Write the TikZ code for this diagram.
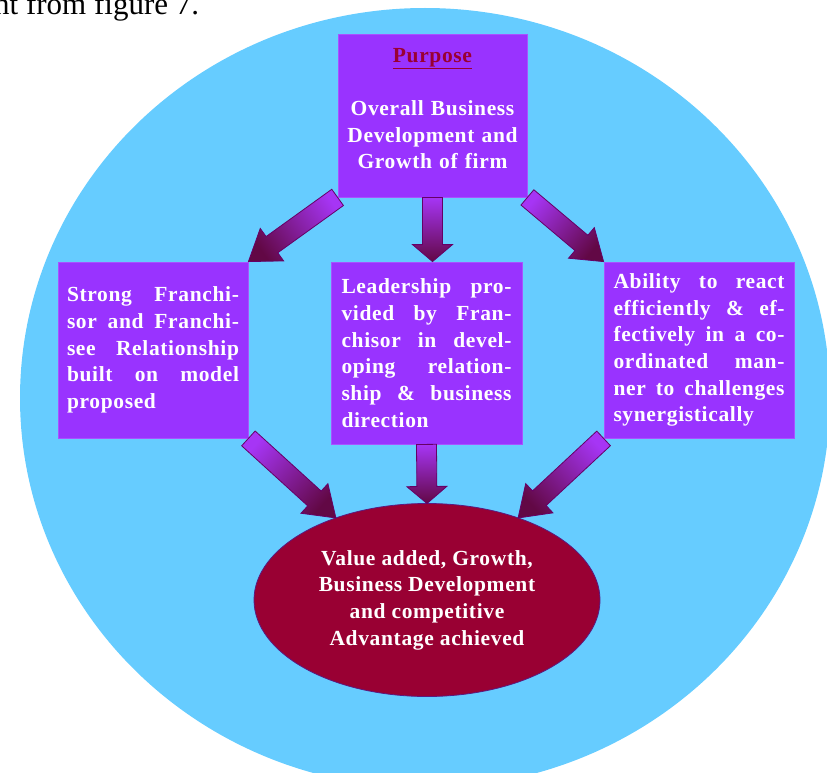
\documentclass[tikz,border=0pt]{standalone}
\usepackage{fontspec}
\setmainfont{Liberation Serif}
\usepackage{xcolor}
\usetikzlibrary{calc,shapes.geometric}

\definecolor{skyblue}{HTML}{66CCFF}
\definecolor{boxviolet}{HTML}{9933FF}
\definecolor{wine}{HTML}{990033}
\definecolor{arrowline}{HTML}{660066}
\definecolor{arrowtail}{HTML}{A635F5}
\definecolor{arrowhead}{HTML}{620845}
\definecolor{goalline}{HTML}{5A1A80}

\newcommand{\blockarrow}[3][29]{%
  \path let \p1=($(#3)-(#2)$) in
    \pgfextra{\pgfmathsetmacro\baangle{atan2(\y1,\x1)+90}\xdef\baangle{\baangle}};
  \coordinate (ba-c) at ($(#3)!#1pt!(#2)$);
  \draw[blockarrow,shading angle=\baangle]
    ($(#2)!10pt!90:(#3)$) -- ($(ba-c)!10pt!90:(#3)$) -- ($(ba-c)!20pt!90:(#3)$) -- (#3)
    -- ($(ba-c)!20pt!-90:(#3)$) -- ($(ba-c)!10pt!-90:(#3)$) -- ($(#2)!10pt!-90:(#3)$) -- cycle;
}

\begin{document}
\begin{tikzpicture}[x=1pt,y=-1pt,
    box/.style={rectangle,fill=boxviolet,draw=boxviolet!85!white,line width=0.8pt,
      text=white,inner sep=0pt,
      font=\bfseries\fontsize{21.5}{26.7}\selectfont\addfontfeature{LetterSpace=3}},
    sidebox/.style={box,minimum width=190pt,minimum height=176pt,text width=172pt,align=justify},
    goal/.style={ellipse,fill=wine,draw=goalline,line width=0.8pt,minimum width=346pt,
      minimum height=193pt,inner sep=0pt,outer sep=0pt,text=white,align=center,
      font=\bfseries\fontsize{21.5}{26.7}\selectfont\addfontfeature{LetterSpace=3}},
    blockarrow/.style={draw=arrowline,line width=0.8pt,top color=arrowtail,bottom color=arrowhead}]
  \useasboundingbox (0,0) rectangle (827,773);
  \clip (0,0) rectangle (827,773);
  \fill[skyblue] (425,398) ellipse [x radius=405, y radius=390];
  \node[anchor=base west,inner sep=0pt,font=\fontsize{31}{36}\selectfont] (caption) at (-6,15) {nt from figure 7.};

  \node[box,minimum width=189pt,minimum height=163pt,text width=175pt,align=center] (purpose) at (432.5,115.5)
    {\textcolor{wine}{\underline{Purpose}}\\[26.7pt] Overall Business\\ Development and\\ Growth of firm\rule[-14pt]{0pt}{14pt}};
  \node[sidebox] (left) at (153,350)
    {Strong Franchi-\linebreak sor and Franchi-\linebreak see Relationship\linebreak built on model\linebreak proposed};
  \node[sidebox,minimum width=191pt,minimum height=182pt,text width=170pt] (middle) at (426.5,353)
    {Leadership pro-\linebreak vided by Fran-\linebreak chisor in devel-\linebreak oping relation-\linebreak ship \& business\linebreak direction};
  \node[sidebox,text width=171pt] (right) at (699,350)
    {Ability to react\linebreak efficiently \& ef-\linebreak fectively in a co-\linebreak ordinated man-\linebreak ner to challenges\linebreak synergistically};
  \node[goal] (value) at (427,600)
    {Value added, Growth,\\ Business Development\\ and competitive\\ Advantage achieved};

  \blockarrow{purpose.south west}{left.north east}
  \blockarrow[17]{purpose.south}{purpose.south |- middle.north}
  \blockarrow{purpose.south east}{right.north west}
  \blockarrow{left.south east}{value.138}
  \blockarrow[17]{middle.south}{value.north}
  \blockarrow{right.south west}{value.42}
\end{tikzpicture}
\end{document}
